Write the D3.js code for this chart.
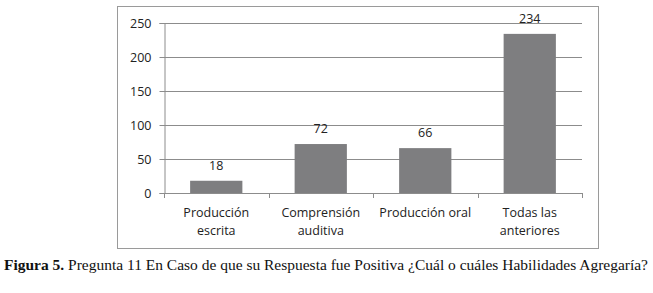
<!DOCTYPE html>
<html>
<head>
<meta charset="utf-8">
<script src="https://cdn.jsdelivr.net/npm/d3@7"></script>
<style>
  body { margin: 0; background: #fff; }
  svg { display: block; }
</style>
</head>
<body>
<svg id="chart" width="653" height="293"></svg>
<script>
const categories = [["Producción", "escrita"], ["Comprensión", "auditiva"], ["Producción oral"], ["Todas las", "anteriores"]];
const values = [18, 72, 66, 234];
const yTicks = [0, 50, 100, 150, 200, 250];
const caption = ["Figura 5.", " Pregunta 11 En Caso de que su Respuesta fue Positiva ¿Cuál o cuáles Habilidades Agregaría?"];

const svg = d3.select("#chart");
const font = "'Open Sans', sans-serif";

// outer frame
svg.append("rect")
    .attr("x", 117.5).attr("y", 6.5)
    .attr("width", 481).attr("height", 242)
    .attr("fill", "none")
    .attr("stroke", "#9a9a9a")
    .attr("stroke-width", 1);

const x = d3.scaleBand()
    .domain(d3.range(categories.length))
    .range([164, 582])
    .paddingInner(0.5)
    .paddingOuter(0.25);

const y = d3.scaleLinear().domain([0, 250]).range([193, 23]);

// gridlines
svg.append("g")
    .selectAll("line")
    .data(yTicks.slice(1))
    .enter().append("line")
    .attr("x1", 164).attr("x2", 582)
    .attr("y1", d => Math.round(y(d)) + 0.5)
    .attr("y2", d => Math.round(y(d)) + 0.5)
    .attr("stroke", "#8c8c8c");

// bars
svg.append("g")
    .selectAll("rect")
    .data(values)
    .enter().append("rect")
    .attr("x", (d, i) => x(i))
    .attr("y", d => y(d))
    .attr("width", x.bandwidth())
    .attr("height", d => y(0) - y(d))
    .attr("fill", "#7e7e80");

// value labels
svg.append("g")
    .selectAll("text")
    .data(values)
    .enter().append("text")
    .attr("x", (d, i) => x(i) + x.bandwidth() / 2)
    .attr("y", d => y(d) - 11)
    .attr("text-anchor", "middle")
    .style("font-family", font)
    .style("font-size", "12.5px")
    .attr("fill", "#222")
    .text(d => d);

// y axis
const yAxis = d3.axisLeft(y).tickValues(yTicks).tickSize(5).tickPadding(8);
const ga = svg.append("g").attr("transform", "translate(164.5,0)").call(yAxis);
ga.selectAll("text").style("font-family", font).style("font-size", "12.5px").attr("fill", "#222");
ga.selectAll("line,path").attr("stroke", "#8c8c8c");

// x axis: baseline plus ticks at category boundaries
const xg = svg.append("g");
xg.append("line")
    .attr("x1", 164).attr("x2", 582)
    .attr("y1", 193.5).attr("y2", 193.5)
    .attr("stroke", "#8c8c8c");
const step = x.step();
xg.selectAll(".tk")
    .data(d3.range(categories.length + 1))
    .enter().append("line")
    .attr("x1", d => Math.round(164 + d * step) + 0.5)
    .attr("x2", d => Math.round(164 + d * step) + 0.5)
    .attr("y1", 193).attr("y2", 198)
    .attr("stroke", "#8c8c8c");

const labels = xg.selectAll(".lab")
    .data(categories)
    .enter().append("text")
    .attr("text-anchor", "middle")
    .attr("x", (d, i) => x(i) + x.bandwidth() / 2)
    .attr("y", 217)
    .style("font-family", font)
    .style("font-size", "12.5px")
    .attr("fill", "#222");
labels.selectAll("tspan")
    .data(d => d)
    .enter().append("tspan")
    .attr("x", function() { return this.parentNode.getAttribute("x"); })
    .attr("dy", (d, i) => i === 0 ? 0 : 18)
    .text(d => d);

// caption
const cap = svg.append("text")
    .attr("x", 4).attr("y", 270)
    .attr("textLength", 644)
    .attr("lengthAdjust", "spacingAndGlyphs")
    .style("font-family", "'Liberation Serif', serif")
    .style("font-size", "14.5px")
    .attr("fill", "#111");
cap.append("tspan").attr("font-weight", "bold").text(caption[0]);
cap.append("tspan").text(caption[1]);
</script>
</body>
</html>
